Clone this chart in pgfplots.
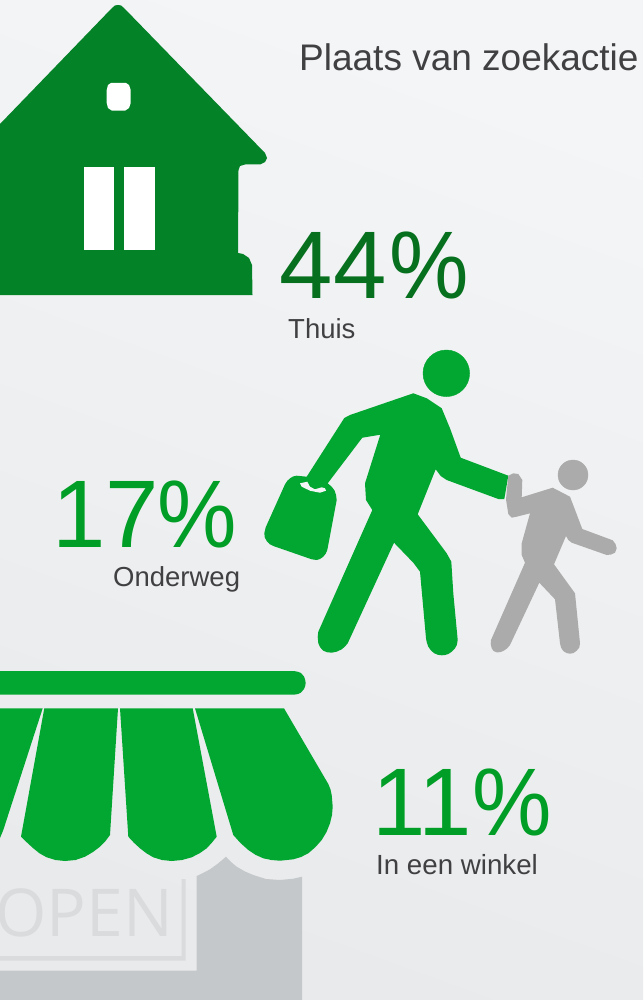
\documentclass[border=0pt]{standalone}
\usepackage{pgfplots}
\pgfplotsset{compat=1.18}
\usepackage{graphicx}
\usepackage{fontspec}
\setmainfont{Liberation Sans}
\newfontfamily\openfont{Open Sans}
\definecolor{housegreen}{RGB}{3,130,40}
\definecolor{mangreen}{RGB}{1,167,48}
\definecolor{txtA}{RGB}{6,112,30}
\definecolor{txtB}{RGB}{0,158,38}
\definecolor{txtgray}{RGB}{64,64,66}
\definecolor{kidgray}{RGB}{171,171,171}
\definecolor{shopgray}{RGB}{197,200,202}
\definecolor{signgray}{RGB}{218,219,220}
\definecolor{bgtop}{RGB}{244,245,246}
\definecolor{bgbot}{RGB}{233,234,235}
\newcommand{\pct}[1]{\hspace{#1}\scalebox{0.93}[1]{\%}}
\begin{document}
\begin{tikzpicture}
\clip (0,0) rectangle (643pt,1000pt);
\begin{axis}[
  scale only axis,
  width=643pt, height=1000pt,
  xmin=0, xmax=643, ymin=0, ymax=1000,
  y dir=reverse,
  ticks=none,
  axis line style={draw=none},
  axis background/.style={top color=bgtop, bottom color=bgbot, shading angle=-20},
  every axis plot/.append style={draw=none, mark=none},
]
% house
\addplot[fill=housegreen] coordinates {
  (0,124) (112,8) (115,5.5) (118,5) (121,5.5) (124,8) (265,153) (267,158) (265,162) (260,164.5)
  (245,164.5) (240,166) (238.5,170) (238,253) (243,254) (249,258) (252,265) (252.5,295) (0,295)
} --cycle;
\addplot[fill=white] coordinates {(84,167) (114,167) (114,250) (84,250)} --cycle;
\addplot[fill=white] coordinates {(123.5,167) (154.5,167) (154.5,250) (123.5,250)} --cycle;
\addplot[fill=white] coordinates {
  (111,83) (126,83) (129,85) (130.7,90) (130.7,103) (129,108) (125,110.7) (112,110.7) (108,108) (106.7,103) (106.7,90) (108,85)
} --cycle;
% man
\addplot[fill=mangreen] coordinates {
  (413.3,393.3) (426.7,398.3) (441.7,408.3) (450,428.3) (460.7,457.7) (508.3,475.7) (504.3,499) (498.3,499)
  (446.7,480) (440.7,476) (435.7,469.3) (417.7,514.3) (446.7,553.3) (451.3,561.7) (453.3,593.3) (457.7,640)
  (456.8,645) (455,648.3) (452,651.5) (448.3,654) (445,655) (441.7,655.3) (438,654.8) (434.3,653.3) (431,650.5) (428.3,646.7) (426.8,642.5) (426,638.3) (420,571.7) (413.3,562.7)
  (394,542.7) (347.7,643.3) (345,646.5) (341.7,649.3) (336.7,651.7) (331.7,652.7) (327,652.2) (323.3,650.7) (320.3,647.5) (318.3,643.3) (317.7,637) (318.3,631.7) (372.3,510)
  (366,500) (365,483.3) (380.3,434.7) (362.3,437.7) (327.7,483.3)
  (331.7,486.7) (334.5,490.5) (336,495) (336.7,500) (327.3,550) (325.8,553.5) (323.3,556.7) (320,559) (316.7,560) (311.7,559.3) (273.3,546)
  (269.5,544) (266.7,541) (264.8,537.5) (264.3,533.3) (265.7,527.3) (285,484.3) (287.2,481) (290,478.3) (293,476.5) (296.7,475.7) (306.7,476.7) (344.3,418) (350,415)
} --cycle;
\addplot[fill=bgtop] coordinates {
  (300,483.3) (307.3,481.7) (310,486.7) (315,489.3) (321.7,487.3) (325,488.3) (326,490.7) (320,492.7) (310,490.7) (301.7,486.7)
} --cycle;
\addplot[only marks, mark=*, mark size=23.3pt, mark options={fill=mangreen, draw=mangreen}] coordinates {(446.3,373.3)};
% child
\addplot[fill=kidgray] coordinates {
  (552.7,487.7) (570,496.7) (582.3,529) (612.7,540.3) (615.5,544) (616.7,548.3) (615,552.7) (611,554.5) (606.7,555) (571.7,542.7)
  (568.3,540) (566,536) (554,564.3) (575,593.3) (580,643.3) (579.3,647.5) (576.7,650.7) (573.5,653) (570,653.7) (566.5,653) (563.3,651) (561,647.5) (560,643.3)
  (555,599.3) (539.3,582.7) (510,645) (507,648.5) (503.3,651) (500,652.2) (496.7,652.3) (493.5,651) (491.7,648.3) (490.7,644) (491,640) (525,562.7) (521.7,555)
  (521.7,543.3) (530,513.3) (516.7,516.7) (511.7,517.7) (508.3,514) (506,499.3) (508.3,475.7) (513.3,473.3)
  (518.3,474) (522.3,480) (521.7,497.3)
} --cycle;
\addplot[only marks, mark=*, mark size=15pt, mark options={fill=kidgray, draw=kidgray}] coordinates {(573,475)};
% shop
\addplot[fill=shopgray] coordinates {
  (0,970.7) (196.7,970.7) (196.7,876) (203,873) (210,869.3) (218,863.5) (226,856.7) (231,862) (236.7,866.7) (245,871.5) (253.3,875) (266,879) (280,880) (293.3,878.7) (302,876.7) (302,1000) (0,1000)
} --cycle;
\addplot[fill=signgray] coordinates {
  (0,956) (181.7,956) (181.7,879) (185.7,879) (185.7,960.7) (0,960.7)
} --cycle;
\addplot[fill=mangreen] coordinates {
  (0,671) (294,671) (298,671.8) (301,673) (304,676.5) (305.2,680) (305.7,683) (305.2,686) (304,689) (301,692.5) (298,694) (294,694.7) (0,694.7)
} --cycle;
\addplot[fill=mangreen] coordinates {
  (195,708.3) (284,708.3) (328.3,784) (330.5,789.5) (331.7,795) (332.7,806.7) (332,815) (330,823.3) (326.5,832) (321.7,840) (315.5,847) (308.3,853.3) (301,857) (293.3,859.3)
  (280,860.7) (271.5,860) (263.3,858.3) (255.5,854.8) (248.3,850) (240.5,843) (233.3,835)
} --cycle;
\addplot[fill=mangreen] coordinates {
  (120,708.3) (192.7,708.3) (216.7,836.7) (212,842.5) (206.7,848.3) (199.5,853.3) (191.7,857.3) (182,860) (171.7,861) (162,860) (153.3,857.3) (146.5,853.3) (140,848.3) (134,842.8) (128.3,836.7)
} --cycle;
\addplot[fill=mangreen] coordinates {
  (44.3,708.3) (118,708.3) (110,835) (105.5,841) (100,846.7) (93,852) (85,856.7) (75.5,860) (65,861) (55.5,860) (46.7,857.3) (39.5,853.3) (33.3,848.3) (27,842.5) (21,836.7)
} --cycle;
\addplot[fill=mangreen] coordinates {(0,708.3) (42.7,708.3) (3.3,830) (0,838)} --cycle;
% text
\node[anchor=base west, inner sep=0pt, font=\openfont\fontsize{66}{66}\selectfont, text=signgray] at (axis cs:-5,936) {OPEN};
\node[anchor=base west, inner sep=0pt, font=\fontsize{37}{37}\selectfont, text=txtgray] at (axis cs:299,70.5) {Plaats van zoekactie};
\node[anchor=base west, inner sep=0pt, font=\fontsize{96}{96}\selectfont, text=txtA] at (axis cs:279.5,298.5) {44\pct{3pt}};
\node[anchor=base west, inner sep=0pt, font=\fontsize{27.5}{27.5}\selectfont, text=txtgray] at (axis cs:288,338) {Thuis};
\node[anchor=base west, inner sep=0pt, font=\fontsize{96}{96}\selectfont, text=txtB] at (axis cs:52,547.5) {17\pct{-1pt}};
\node[anchor=base west, inner sep=0pt, font=\fontsize{27.5}{27.5}\selectfont, text=txtgray] at (axis cs:113,586) {Onderweg};
\node[anchor=base west, inner sep=0pt, font=\fontsize{96}{96}\selectfont, text=txtB] at (axis cs:372,835.5) {11\pct{1pt}};
\node[anchor=base west, inner sep=0pt, font=\fontsize{27.7}{27.7}\selectfont, text=txtgray] at (axis cs:376,874) {In een winkel};
\end{axis}
\end{tikzpicture}
\end{document}
